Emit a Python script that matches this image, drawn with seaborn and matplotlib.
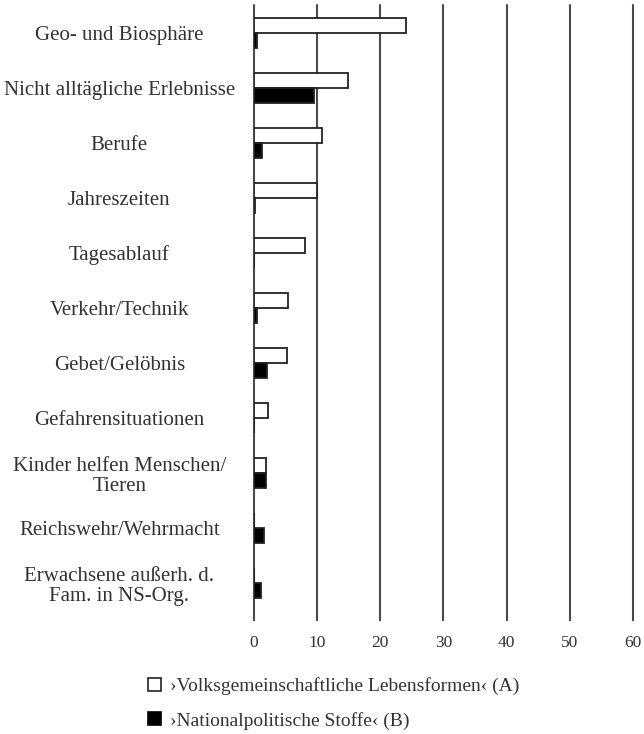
import numpy as np
import pandas as pd
import matplotlib
matplotlib.use("Agg")
import matplotlib.pyplot as plt
from matplotlib.patches import Patch
import seaborn as sns

categories = [
    "Geo- und Biosphäre",
    "Nicht alltägliche Erlebnisse",
    "Berufe",
    "Jahreszeiten",
    "Tagesablauf",
    "Verkehr/Technik",
    "Gebet/Gelöbnis",
    "Gefahrensituationen",
    "Kinder helfen Menschen/\nTieren",
    "Reichswehr/Wehrmacht",
    "Erwachsene außerh. d.\nFam. in NS-Org.",
]
series_a = [24.0, 14.9, 10.8, 10.0, 8.1, 5.4, 5.2, 2.2, 1.9, 0.0, 0.0]
series_b = [0.5, 9.5, 1.2, 0.2, 0.0, 0.5, 2.1, 0.0, 1.9, 1.6, 1.1]
series_names = ["›Volksgemeinschaftliche Lebensformen‹ (A)",
                "›Nationalpolitische Stoffe‹ (B)"]
x_ticks = [0, 10, 20, 30, 40, 50, 60]

df = pd.DataFrame({
    "Kategorie": categories * 2,
    "Wert": series_a + series_b,
    "Reihe": [series_names[0]] * len(categories) + [series_names[1]] * len(categories),
})

sns.set_theme(style="white")
plt.rcParams["font.family"] = ["Liberation Serif", "DejaVu Serif"]
text_color = "#333333"
grid_color = "#4a4a4a"

fig = plt.figure(figsize=(6.44, 7.34), dpi=100)
ax = fig.add_axes([0.3944, 0.1676, 0.5885, 0.8256])

sns.barplot(data=df, y="Kategorie", x="Wert", hue="Reihe", orient="h",
            palette=["white", "black"], edgecolor="#222222", linewidth=1.3,
            width=0.545, ax=ax, legend=False, zorder=3)

ax.set_xlim(0, 60)
ax.set_ylim(10.5, -0.5)
ax.set_xticks(x_ticks)
ax.set_xticklabels([str(t) for t in x_ticks])
# vertical grid lines, drawn behind the bars
for x in x_ticks:
    ax.axvline(x, color=grid_color, lw=1.5, zorder=1, clip_on=False)
for s in ax.spines.values():
    s.set_visible(False)

ax.set_xlabel("")
ax.set_ylabel("")
ax.tick_params(axis="x", bottom=True, length=7, width=1.5, color=grid_color,
               pad=10, labelsize=12.5, labelcolor=text_color)
ax.tick_params(axis="y", left=False, pad=91, labelsize=15, labelcolor=text_color)
for lab in ax.get_yticklabels():
    lab.set_horizontalalignment("center")
    lab.set_multialignment("center")
    lab.set_linespacing(1.1)

handles = [Patch(facecolor="white", edgecolor="#222222", linewidth=1.2),
           Patch(facecolor="black", edgecolor="black", linewidth=1.2)]
fig.legend(handles, series_names, loc="upper left",
           bbox_to_anchor=(0.203, 0.101), frameon=False,
           handlelength=0.65, handleheight=0.65, handletextpad=0.45,
           labelspacing=0.85, fontsize=14, labelcolor=text_color)

fig.savefig("out.png", dpi=100)
